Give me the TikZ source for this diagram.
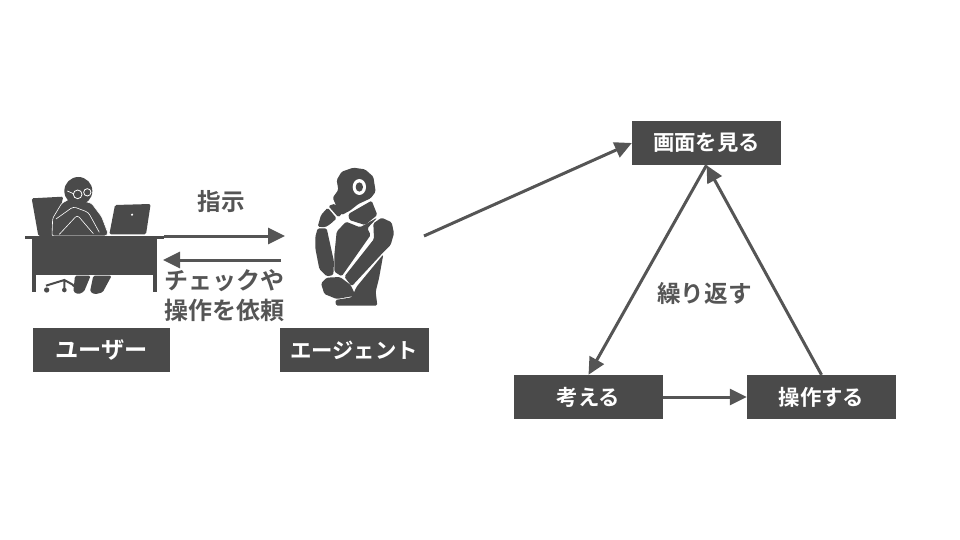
\documentclass[tikz,border=0pt]{standalone}
\usepackage{fontspec}
\setmainfont[BoldFont={Noto Sans CJK JP Bold}]{Noto Sans CJK JP}
\usetikzlibrary{arrows.meta}
\definecolor{darkbox}{HTML}{4A4A4A}
\definecolor{linegray}{HTML}{555555}
\tikzset{
  stepbox/.style={rectangle, fill=darkbox, text=white, font=\fontsize{21.4}{24}\selectfont\bfseries, minimum width=149pt, minimum height=44pt, inner sep=0pt},
  flow/.style={draw=linegray, line width=3pt, -{Triangle[length=17pt,width=16pt]}},
  label/.style={text=linegray, font=\fontsize{23.6}{30}\selectfont\bfseries, align=center, inner sep=0pt},
  icon/.style={fill=darkbox, draw=none, rounded corners=1.5pt},
  gap/.style={draw=white, line width=.6pt, rounded corners=3pt},
}
\begin{document}
\begin{tikzpicture}[x=1pt,y=-1pt]
  \useasboundingbox (0,0) rectangle (960,540);
  % boxes
  \node[stepbox, minimum width=137pt, font=\fontsize{23.2}{24}\selectfont\bfseries] (user) at (101.5,350) {ユーザー};
  \node[stepbox] (agent) at (354,350) {エージェント};
  \node[stepbox] (see) at (706.5,143) {画面を見る};
  \node[stepbox] (think) at (588.5,397) {考える};
  \node[stepbox] (act) at (821.5,397) {操作する};
  % desk
  \begin{scope}[shift={(30,175)},scale=1/3]
    \fill[icon] (5,70) -- (100,65) -- (70,183) -- (25,183) -- cycle;
    \filldraw[icon,draw=white,line width=.6pt] (66,183) -- (68,130) -- (95,85) -- (125,68) -- (185,85) -- (215,125) -- (234,175) -- (228,183) -- cycle;
    \draw[gap] (78,132) -- (130,95) -- (175,112) -- (208,172);
    \draw[gap] (88,178) -- (142,120) -- (190,176);
    \fill[darkbox] (145,48) circle (42);
    \filldraw[fill=darkbox,draw=white,line width=.8pt] (143,58) circle (13) (172,52) circle (11);
    \draw[white,line width=.7pt] (130,56) -- (112,48);
    \fill[icon] (255,90) -- (362,87) -- (348,178) -- (238,178) -- cycle;
    \fill[white] (306,119) circle (3.5);
    \fill[darkbox] (-15,183) rectangle (402,192.5);
    \fill[darkbox] (5,192) rectangle (382,300);
    \fill[darkbox] (5,300) rectangle (17,351);
    \fill[darkbox] (370,300) rectangle (382,351);
  \end{scope}
  \begin{scope}[shift={(30,235)},scale=1/3]
    \fill[icon] (135,122) -- (182,122) -- (162,170) -- (145,178) -- (130,170) -- cycle;
    \fill[icon] (190,122) -- (245,122) -- (218,172) -- (195,178) -- (180,170) -- cycle;
    \draw[darkbox,line width=2pt] (48,152) -- (103,135) -- (130,150) (103,135) -- (103,160);
    \fill[darkbox] (50,165) circle (8) (103,165) circle (7) (130,152) circle (4);
  \end{scope}
  % robot
  \begin{scope}[shift={(310,165)},scale=1/3]
    \fill[icon] (68,98) -- (85,75) -- (80,45) -- (95,20) -- (130,8) -- (165,13) -- (190,35) -- (197,80) -- (182,100) -- (145,117) -- (120,137) -- (95,150) -- (85,137) -- cycle;
    \fill[white] (148,66) ellipse (20 and 24);
    \fill[darkbox] (148,66) ellipse (11 and 14);
    \fill[icon] (115,147) -- (185,107) -- (202,150) -- (165,180) -- (118,165) -- cycle;
    \fill[icon] (108,170) -- (150,187) -- (202,158) -- (172,190) -- (182,210) -- (95,334) -- (73,320) -- (73,270) -- (80,200) -- cycle;
    \fill[icon] (190,175) -- (215,158) -- (245,172) -- (252,205) -- (242,240) -- (215,267) -- (125,364) -- (103,335) -- (192,222) -- cycle;
    \fill[icon] (23,185) -- (33,150) -- (53,128) -- (80,160) -- (60,178) -- (45,187) -- cycle;
    \fill[icon] (55,123) -- (75,116) -- (97,145) -- (85,157) -- cycle;
    \fill[icon] (23,190) -- (50,190) -- (72,290) -- (70,330) -- (50,334) -- (28,312) -- (16,250) -- (16,215) -- cycle;
    \fill[icon] (33,355) -- (50,338) -- (90,336) -- (122,360) -- (137,392) -- (80,402) -- (43,387) -- cycle;
    \fill[icon] (220,268) -- (207,340) -- (197,380) -- (202,422) -- (78,422) -- (76,405) -- (125,397) -- (140,365) -- cycle;
  \end{scope}
  \coordinate (deskout) at (164,236);
  \coordinate (robotin) at (285,236);
  \coordinate (robotback) at (281,260);
  \coordinate (deskback) at (163,260);
  \coordinate (robotout) at (424,236);
  % arrows
  \draw[flow] (deskout) -- (robotin);
  \draw[flow] (robotback) -- (deskback);
  \draw[flow] (robotout) -- (see.west);
  \draw[flow] (see.south) -- (think.north);
  \draw[flow] (act.north) -- (see.south);
  \draw[flow] (think.east) -- (act.west);
  % labels
  \node[label] (order) at (221.5,202) {指示};
  \node[label, font=\fontsize{24}{30}\selectfont\bfseries] (check) at (224,296) {チェックや\\操作を依頼};
  \node[label] (loop) at (704.5,293) {繰り返す};
\end{tikzpicture}
\end{document}
